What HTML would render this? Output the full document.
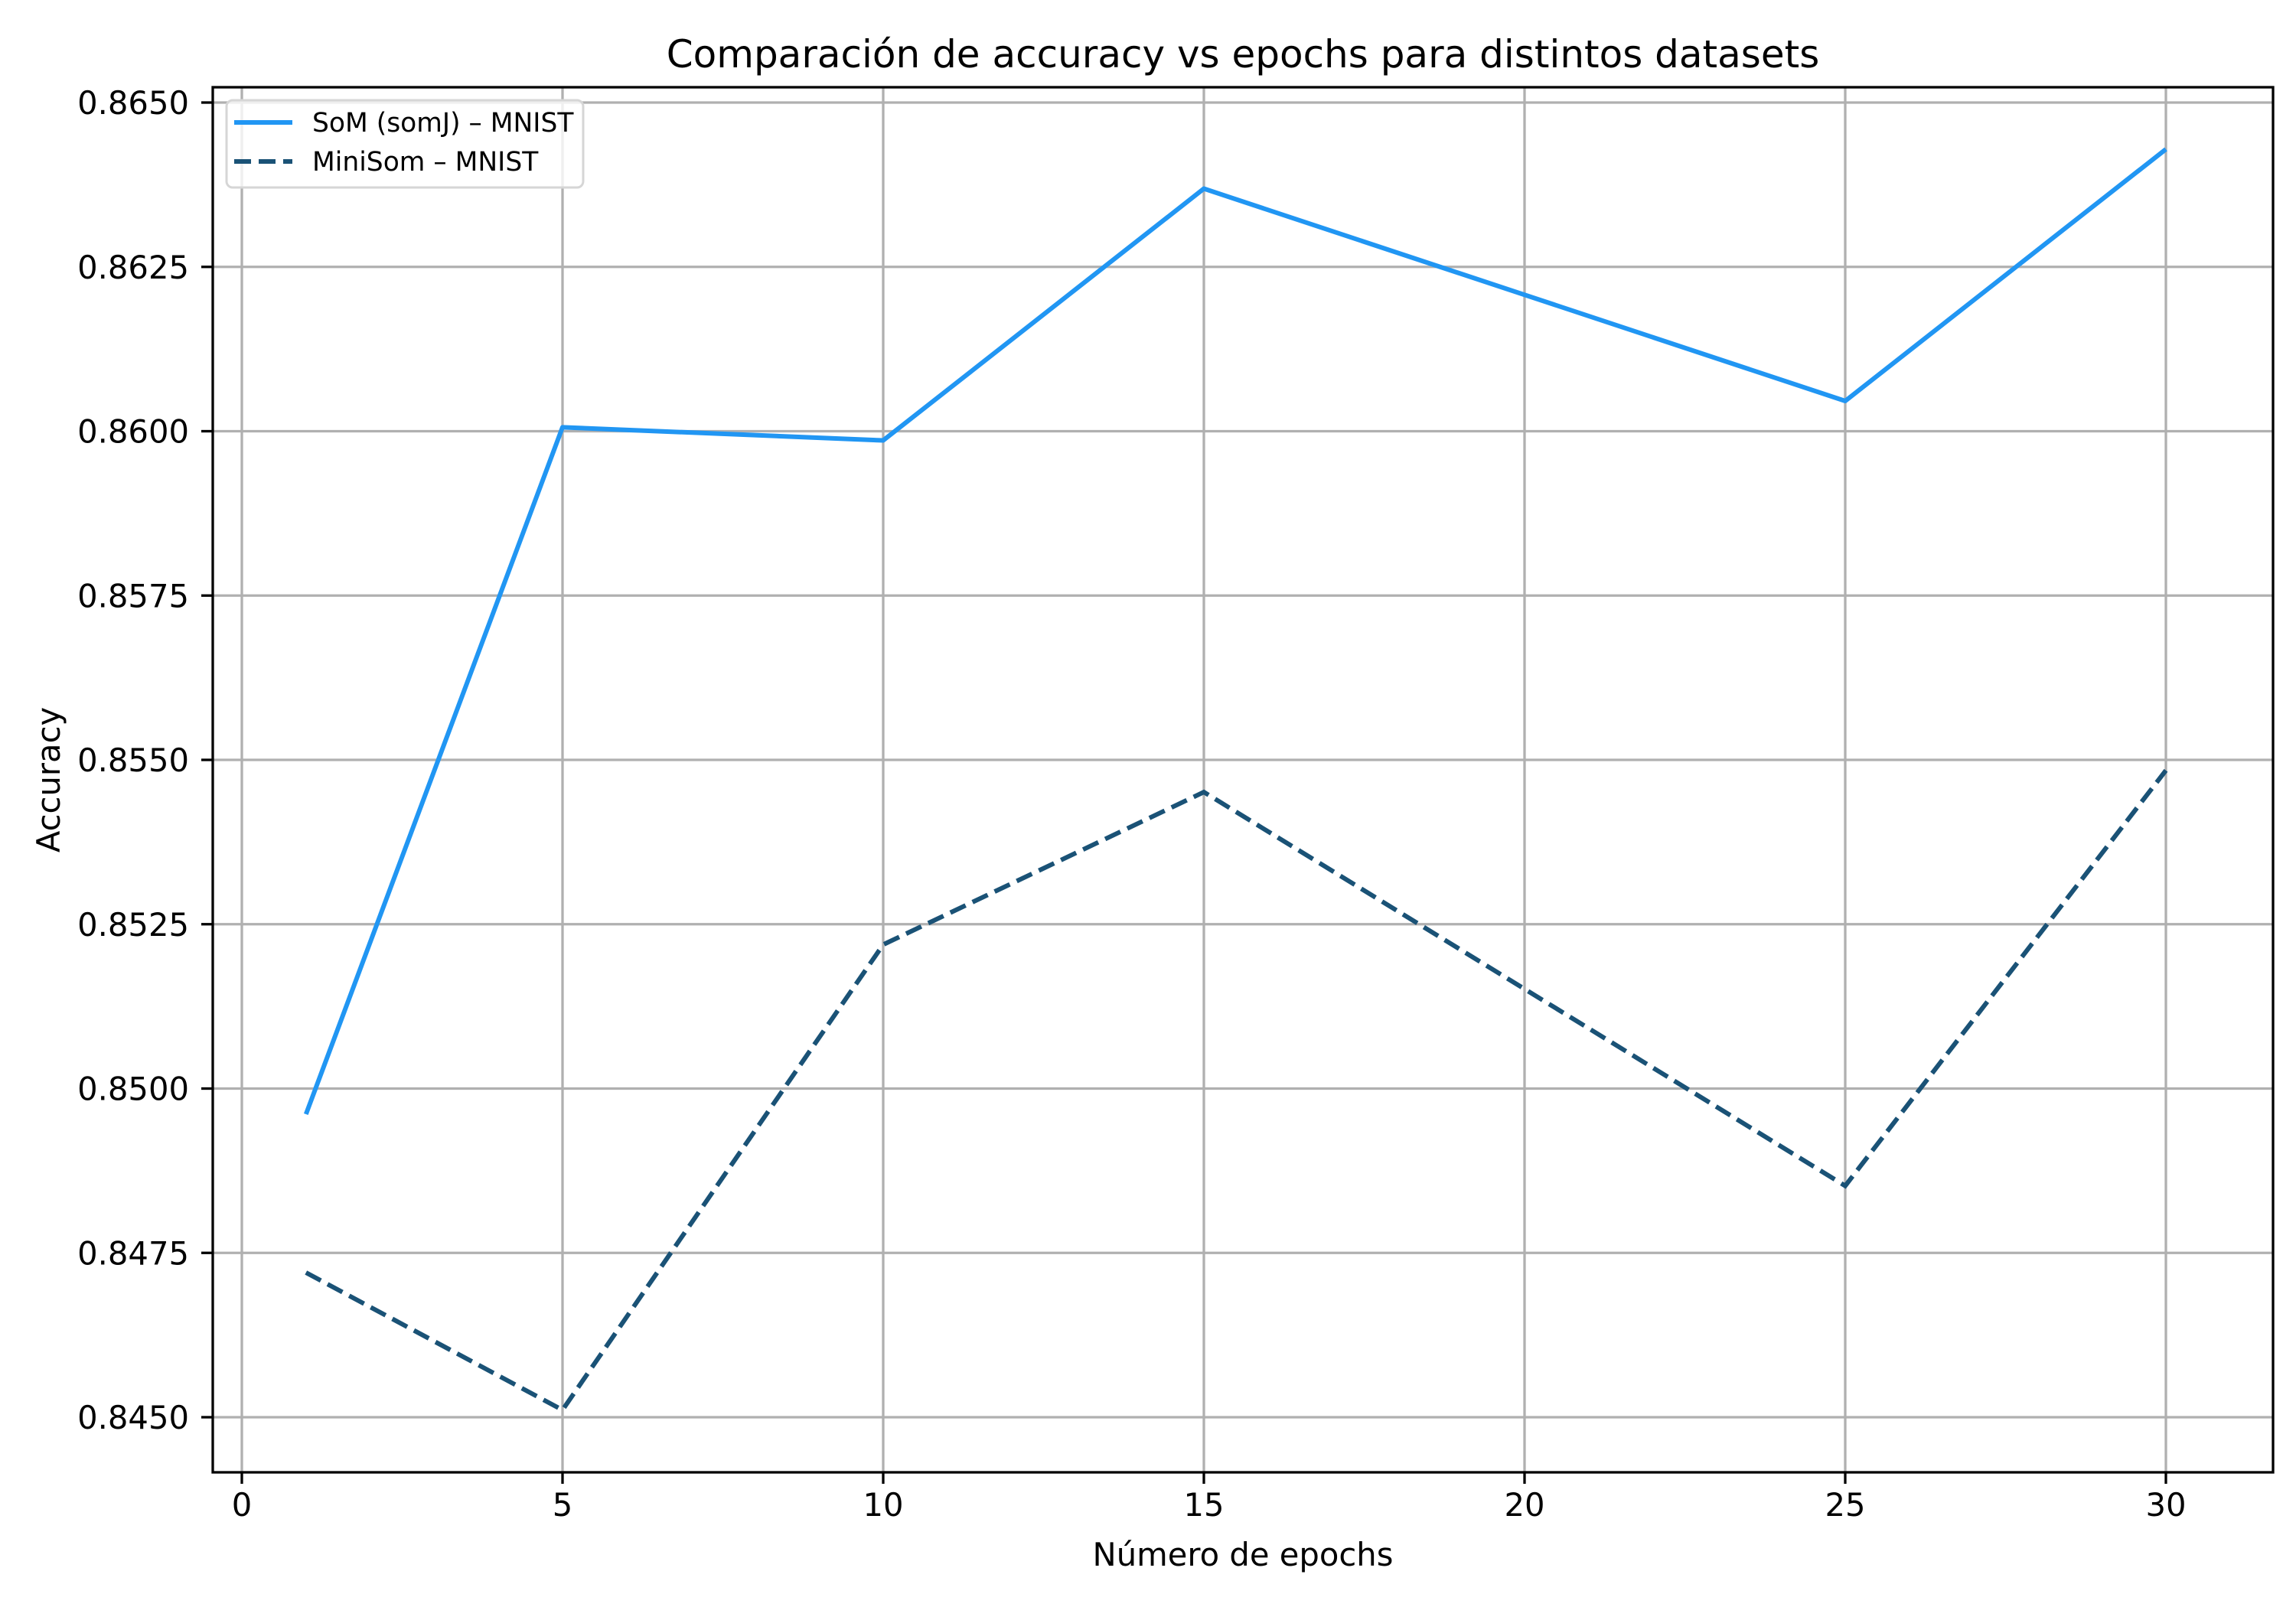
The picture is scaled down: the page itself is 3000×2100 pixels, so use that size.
<!DOCTYPE html>
<html><head><meta charset="utf-8"><style>
html,body{margin:0;padding:0;background:#fff}
svg{display:block}
text{font-family:"DejaVu Sans","Liberation Sans",sans-serif;fill:#000}
</style></head><body>
<svg id="chart" width="3000" height="2100" xmlns="http://www.w3.org/2000/svg">
<rect width="3000" height="2100" fill="#fff"/>
<g id="grid"></g>
<g id="series"></g>
<rect x="278" y="114" width="2692" height="1810" fill="none" stroke="#000" stroke-width="3.3"/>
<g id="ticks"></g>
<text x="1624" y="88" font-size="50" text-anchor="middle">Comparación de accuracy vs epochs para distintos datasets</text>
<text x="1624" y="2046" font-size="41.7" text-anchor="middle">Número de epochs</text>
<text x="0" y="0" font-size="41.7" text-anchor="middle" transform="translate(78,1019) rotate(-90)">Accuracy</text>
<g>
<rect x="296" y="131" width="466" height="114" rx="8" fill="#fff" fill-opacity="0.8" stroke="#d6d6d6" stroke-width="3"/>
<line x1="306" y1="160" x2="382" y2="160" stroke="#2196F3" stroke-width="6"/>
<text x="408" y="172" font-size="34.5">SoM (somJ) – MNIST</text>
<line x1="306" y1="211" x2="382" y2="211" stroke="#1a5276" stroke-width="6" stroke-dasharray="22,10"/>
<text x="408" y="223" font-size="34.5">MiniSom – MNIST</text>
</g>
</svg>
<script>
const epochs = [1, 5, 10, 15, 25, 30];
const somValues = [0.84961, 0.86006, 0.85986, 0.86369, 0.86046, 0.86429];
const miniSomValues = [0.84720, 0.84511, 0.85219, 0.85451, 0.84852, 0.85484];
const xTicks = [0, 5, 10, 15, 20, 25, 30];
const yTicks = [0.8450, 0.8475, 0.8500, 0.8525, 0.8550, 0.8575, 0.8600, 0.8625, 0.8650];
const yTickLabels = ["0.8450","0.8475","0.8500","0.8525","0.8550","0.8575","0.8600","0.8625","0.8650"];

const NS = "http://www.w3.org/2000/svg";
function xs(v){ return 316 + (v - 0) * 83.8; }
function ys(v){ return 134 + (0.8650 - v) / 0.0025 * 214.75; }
function mk(tag, attrs, parent){
  const e = document.createElementNS(NS, tag);
  for (const k in attrs) e.setAttribute(k, attrs[k]);
  parent.appendChild(e);
  return e;
}
const grid = document.getElementById('grid');
const ticks = document.getElementById('ticks');
const series = document.getElementById('series');
xTicks.forEach(t => {
  const x = xs(t);
  const g = mk('line', {x1:x, y1:114, x2:x, y2:1924, stroke:'#b0b0b0', 'stroke-width':3.3}, grid);
  
  
  const tk = mk('line', {x1:x, y1:1924, x2:x, y2:1939, stroke:'#000', 'stroke-width':3.3}, ticks);
  
  
  const lb = mk('text', {x:x, y:1981, 'font-size':41.7, 'text-anchor':'middle'}, ticks);
  lb.textContent = String(t);
  
  
});
yTicks.forEach((t, i) => {
  const y = ys(t);
  const g = mk('line', {x1:278, y1:y, x2:2970, y2:y, stroke:'#b0b0b0', 'stroke-width':3.3}, grid);
  
  
  const tk = mk('line', {x1:263, y1:y, x2:278, y2:y, stroke:'#000', 'stroke-width':3.3}, ticks);
  
  
  const lb = mk('text', {x:247, y:y + 15, 'font-size':41.7, 'text-anchor':'end'}, ticks);
  lb.textContent = yTickLabels[i];
  
  
});
function pts(vals){ return vals.map((v, i) => xs(epochs[i]) + ',' + ys(v)).join(' '); }
const l1 = mk('polyline', {points:pts(somValues), fill:'none', stroke:'#2196F3', 'stroke-width':6, 'stroke-linejoin':'round'}, series);


const l2 = mk('polyline', {points:pts(miniSomValues), fill:'none', stroke:'#1a5276', 'stroke-width':6, 'stroke-dasharray':'22,10'}, series);


</script>
</body></html>
